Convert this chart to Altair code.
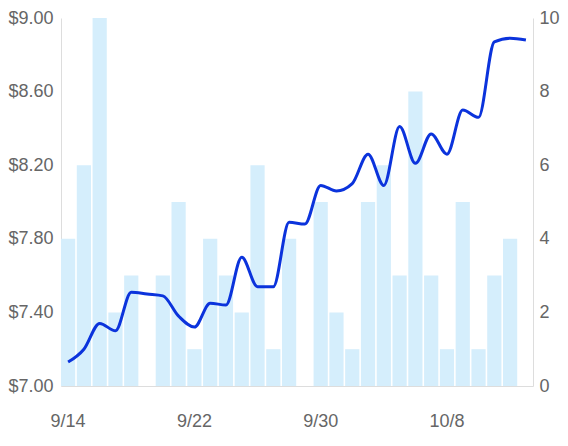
import altair as alt
import pandas as pd

dates = ["9/14", "9/15", "9/16", "9/17", "9/18", "9/19", "9/20", "9/21", "9/22", "9/23",
         "9/24", "9/25", "9/26", "9/27", "9/28", "9/29", "9/30", "10/1", "10/2", "10/3",
         "10/4", "10/5", "10/6", "10/7", "10/8", "10/9", "10/10", "10/11", "10/12", "10/13"]
counts = [4, 6, 10, 2, 3, 0, 3, 5, 1, 4, 3, 2, 6, 1, 4, 0, 5, 2, 1, 5, 6, 3, 8, 3, 1, 5, 1, 3, 4, 0]
prices = [7.13, 7.20, 7.34, 7.30, 7.51, 7.50, 7.49, 7.38, 7.32, 7.45, 7.44, 7.70, 7.54, 7.54, 7.89,
          7.88, 8.09, 8.06, 8.10, 8.26, 8.09, 8.41, 8.21, 8.37, 8.26, 8.50, 8.46, 8.87, 8.89, 8.88]
x_ticks = ["9/14", "9/22", "9/30", "10/8"]
price_ticks = [7.0, 7.4, 7.8, 8.2, 8.6, 9.0]
count_ticks = [0, 2, 4, 6, 8, 10]

df = pd.DataFrame({"date": dates, "count": counts, "price": prices})

FONT = "Liberation Sans"
LABEL = "#666666"
DOMAIN = "#dddddd"

x_enc = alt.X("date:N", sort=dates, title=None,
              scale=alt.Scale(paddingInner=0.1, paddingOuter=0),
              axis=alt.Axis(values=x_ticks, ticks=False, domainColor=DOMAIN, labelAngle=0,
                            labelColor=LABEL, labelFont=FONT, labelFontSize=18, labelPadding=26))

bars = alt.Chart(df).mark_bar(color="#d5eefc").encode(
    x=x_enc,
    y=alt.Y("count:Q", title=None, scale=alt.Scale(domain=[0, 10], nice=False),
            axis=alt.Axis(orient="right", values=count_ticks, ticks=False, grid=False,
                          domainColor=DOMAIN, labelColor=LABEL, labelFont=FONT,
                          labelFontSize=18, labelPadding=6)),
)

line = alt.Chart(df).mark_line(color="#0b33dc", strokeWidth=3, interpolate="monotone").encode(
    x=x_enc,
    y=alt.Y("price:Q", title=None, scale=alt.Scale(domain=[7, 9], nice=False, zero=False),
            axis=alt.Axis(orient="left", values=price_ticks, format="$.2f", ticks=False, grid=False,
                          domainColor=DOMAIN, labelColor=LABEL, labelFont=FONT,
                          labelFontSize=18, labelPadding=8)),
)

chart = alt.layer(bars, line).resolve_scale(y="independent").properties(
    width=472, height=368,
    autosize=alt.AutoSizeParams(type="none"),
    padding={"left": 53, "top": 10, "right": 27, "bottom": 46},
).configure_view(stroke=None)

chart.save("out.html", embed_options={"renderer": "svg", "actions": False})
